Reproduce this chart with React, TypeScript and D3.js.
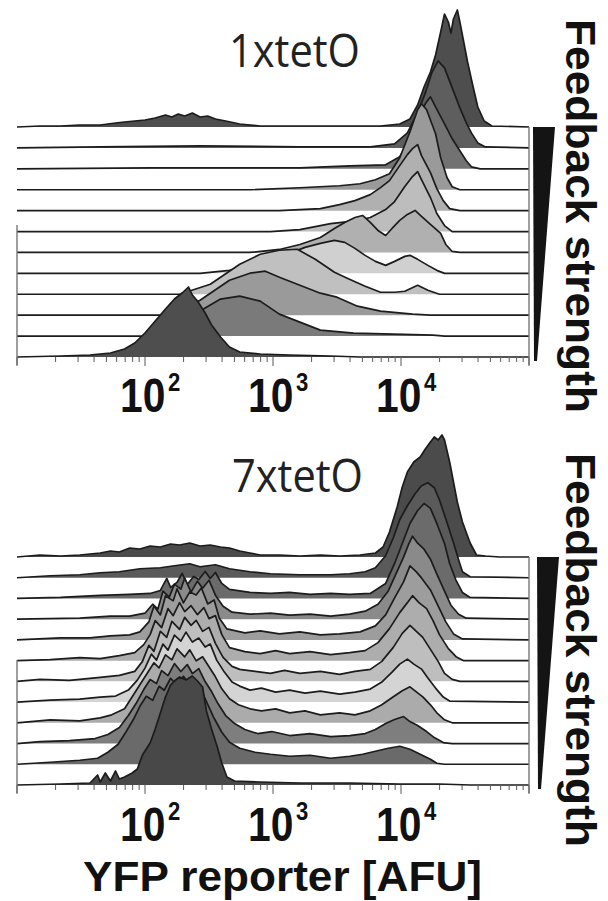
import React from "react";
import * as d3 from "d3";

// each row: [log10(YFP AFU), relative cell count]
// 1xtetO, top row first
const t0: [number, number][] = [[1.00,0],[1.18,1],[1.34,1],[1.49,2],[1.65,2],[1.77,4],[1.84,5],[1.92,6],[2.00,7],[2.08,9],[2.16,12],[2.21,10],[2.26,13],[2.31,11],[2.37,14],[2.43,10],[2.49,11],[2.55,8],[2.63,6],[2.74,3],[2.90,1],[3.21,1],[3.52,1],[3.84,1],[3.99,3],[4.07,8],[4.13,22],[4.18,40],[4.23,55],[4.27,72],[4.31,95],[4.34,113],[4.37,105],[4.39,94],[4.41,108],[4.44,117],[4.46,105],[4.49,85],[4.52,65],[4.56,42],[4.60,20],[4.65,6],[4.71,1],[5.00,0]];
const t1: [number, number][] = [[1.00,0],[1.65,1],[2.43,2],[3.21,1],[3.76,1],[3.95,4],[4.05,15],[4.13,35],[4.19,55],[4.24,75],[4.29,87],[4.34,80],[4.40,60],[4.46,40],[4.51,25],[4.55,15],[4.60,5],[4.66,1],[5.00,0]];
const t2: [number, number][] = [[1.00,0],[2.04,1],[3.21,1],[3.60,3],[3.88,4],[3.99,12],[4.07,30],[4.13,50],[4.19,65],[4.23,72],[4.27,62],[4.34,45],[4.40,30],[4.46,18],[4.51,8],[4.55,2],[4.62,0],[5.00,0]];
const t3: [number, number][] = [[1.00,0],[2.82,0],[3.21,2],[3.52,4],[3.68,6],[3.80,10],[3.91,16],[3.99,32],[4.07,58],[4.13,80],[4.16,86],[4.20,80],[4.27,56],[4.31,32],[4.36,12],[4.40,3],[4.46,0],[5.00,0]];
const t4: [number, number][] = [[1.00,0],[3.05,0],[3.37,2],[3.52,6],[3.64,10],[3.76,16],[3.84,23],[3.91,30],[3.99,45],[4.05,56],[4.09,62],[4.13,66],[4.16,55],[4.23,38],[4.28,22],[4.33,10],[4.38,2],[4.46,0],[5.00,0]];
const t5: [number, number][] = [[1.00,0],[2.98,0],[3.21,2],[3.29,4],[3.45,8],[3.66,11],[3.76,14],[3.88,22],[3.95,30],[4.03,45],[4.09,55],[4.13,60],[4.16,52],[4.23,34],[4.28,18],[4.34,6],[4.40,0],[5.00,0]];
const t6: [number, number][] = [[1.00,0],[2.82,0],[3.05,3],[3.21,8],[3.37,15],[3.48,24],[3.56,30],[3.64,35],[3.70,37],[3.76,30],[3.82,22],[3.88,17],[3.93,24],[3.99,32],[4.05,38],[4.11,42],[4.16,36],[4.23,28],[4.31,19],[4.35,8],[4.40,1],[4.46,0],[5.00,0]];
const t7: [number, number][] = [[1.00,0],[2.43,0],[2.66,3],[2.82,8],[2.98,14],[3.13,20],[3.25,26],[3.37,30],[3.48,33],[3.56,31],[3.64,25],[3.72,18],[3.80,12],[3.88,8],[3.95,12],[4.03,17],[4.07,18],[4.13,14],[4.21,8],[4.28,3],[4.34,0],[5.00,0]];
const t8: [number, number][] = [[1.00,0],[2.27,0],[2.51,10],[2.74,30],[2.90,40],[3.05,44],[3.19,45],[3.33,35],[3.48,22],[3.58,16],[3.72,8],[3.84,2],[3.95,2],[4.03,3],[4.13,9],[4.21,4],[4.30,0],[5.00,0]];
const t9: [number, number][] = [[1.00,0],[2.20,0],[2.43,15],[2.66,35],[2.82,42],[2.94,44],[3.05,38],[3.21,30],[3.37,22],[3.50,18],[3.66,9],[3.84,4],[4.09,1],[4.23,0],[5.00,0]];
const t10: [number, number][] = [[1.00,0],[2.12,0],[2.27,8],[2.43,25],[2.59,37],[2.74,40],[2.90,35],[3.05,22],[3.21,14],[3.37,6],[3.63,3],[4.25,1],[4.34,0],[5.00,0]];
const t11: [number, number][] = [[1.00,0],[1.34,1],[1.57,2],[1.73,4],[1.84,8],[1.92,14],[2.00,24],[2.08,36],[2.16,48],[2.23,58],[2.29,64],[2.34,70],[2.37,62],[2.41,56],[2.47,44],[2.52,32],[2.59,20],[2.66,10],[2.74,5],[2.90,3],[3.13,2],[3.45,1],[3.68,0],[5.00,0]];

// 7xtetO, top row first
const b0: [number, number][] = [[1.00,0],[1.18,2],[1.34,1],[1.49,2],[1.65,4],[1.73,6],[1.80,5],[1.88,9],[1.96,8],[2.04,11],[2.12,10],[2.20,13],[2.27,12],[2.35,14],[2.43,11],[2.51,12],[2.59,10],[2.66,9],[2.74,6],[2.82,4],[2.90,2],[3.05,2],[3.21,1],[3.37,2],[3.52,1],[3.68,2],[3.80,4],[3.86,10],[3.91,25],[3.97,50],[4.01,70],[4.05,85],[4.10,95],[4.15,100],[4.19,108],[4.23,115],[4.26,120],[4.29,117],[4.32,122],[4.34,117],[4.38,95],[4.44,55],[4.48,35],[4.54,14],[4.59,2],[4.66,1],[4.77,0],[5.00,0]];
const b1: [number, number][] = [[1.00,0],[1.26,2],[1.49,3],[1.65,5],[1.80,6],[1.96,9],[2.12,10],[2.23,12],[2.35,14],[2.43,11],[2.55,13],[2.66,9],[2.82,6],[2.98,4],[3.21,3],[3.45,3],[3.60,4],[3.72,6],[3.80,10],[3.88,22],[3.94,40],[3.99,58],[4.05,72],[4.11,84],[4.16,92],[4.21,95],[4.26,90],[4.30,78],[4.36,55],[4.41,35],[4.45,18],[4.48,6],[4.54,1],[5.00,0]];
const b2: [number, number][] = [[1.00,0],[1.34,1],[1.65,3],[1.88,4],[2.04,5],[2.12,8],[2.17,20],[2.20,11],[2.25,16],[2.29,25],[2.33,14],[2.38,22],[2.42,19],[2.47,27],[2.51,20],[2.55,26],[2.60,15],[2.66,9],[2.82,6],[2.98,5],[3.13,6],[3.29,4],[3.45,5],[3.60,4],[3.76,5],[3.88,15],[3.95,35],[4.01,55],[4.07,75],[4.13,88],[4.18,95],[4.23,90],[4.28,75],[4.34,55],[4.38,35],[4.43,18],[4.48,6],[4.54,1],[5.00,0]];
const b3: [number, number][] = [[1.00,0],[1.49,1],[1.73,3],[1.88,3],[2.00,6],[2.06,15],[2.10,10],[2.14,28],[2.19,22],[2.23,35],[2.28,30],[2.31,41],[2.36,27],[2.41,38],[2.45,31],[2.50,39],[2.55,24],[2.61,13],[2.68,7],[2.82,5],[2.98,6],[3.13,4],[3.29,5],[3.45,3],[3.60,5],[3.72,8],[3.82,15],[3.90,28],[3.96,45],[4.02,62],[4.06,75],[4.09,83],[4.13,76],[4.18,70],[4.23,60],[4.28,45],[4.34,28],[4.39,14],[4.45,5],[4.51,1],[5.00,0]];
const b4: [number, number][] = [[1.00,0],[1.34,2],[1.57,2],[1.73,4],[1.88,5],[1.96,8],[2.03,18],[2.07,34],[2.12,25],[2.16,44],[2.22,39],[2.25,51],[2.30,37],[2.35,48],[2.40,45],[2.44,52],[2.49,36],[2.54,40],[2.58,22],[2.64,11],[2.78,7],[2.90,9],[3.05,6],[3.21,8],[3.37,5],[3.52,6],[3.68,8],[3.80,14],[3.88,25],[3.95,42],[4.02,58],[4.07,74],[4.12,68],[4.16,62],[4.23,50],[4.29,34],[4.35,18],[4.41,6],[4.48,1],[5.00,0]];
const b5: [number, number][] = [[1.00,0],[1.26,1],[1.49,3],[1.65,2],[1.80,5],[1.92,8],[1.99,16],[2.04,26],[2.08,40],[2.13,33],[2.18,52],[2.22,45],[2.27,58],[2.31,49],[2.36,55],[2.41,46],[2.46,53],[2.50,42],[2.55,45],[2.60,26],[2.66,13],[2.78,9],[2.90,7],[3.02,10],[3.13,7],[3.29,9],[3.45,6],[3.60,8],[3.72,10],[3.82,18],[3.91,32],[3.99,48],[4.05,58],[4.09,65],[4.14,58],[4.20,52],[4.25,40],[4.30,26],[4.37,12],[4.43,4],[4.49,0],[5.00,0]];
const b6: [number, number][] = [[1.00,0],[1.18,2],[1.41,1],[1.65,4],[1.80,6],[1.92,10],[1.98,20],[2.03,36],[2.07,30],[2.12,50],[2.17,44],[2.21,60],[2.27,52],[2.31,64],[2.36,56],[2.40,61],[2.45,50],[2.50,54],[2.55,38],[2.61,24],[2.68,15],[2.74,12],[2.86,10],[2.98,8],[3.09,11],[3.21,8],[3.37,10],[3.52,7],[3.64,10],[3.76,12],[3.85,20],[3.94,34],[4.01,48],[4.07,56],[4.12,50],[4.17,44],[4.23,32],[4.29,20],[4.34,8],[4.40,2],[4.46,0],[5.00,0]];
const b7: [number, number][] = [[1.00,0],[1.26,2],[1.49,3],[1.65,5],[1.77,6],[1.87,12],[1.94,22],[2.00,34],[2.05,48],[2.09,42],[2.14,58],[2.18,52],[2.23,67],[2.28,61],[2.32,70],[2.37,60],[2.42,64],[2.47,55],[2.51,58],[2.56,42],[2.62,30],[2.68,20],[2.74,16],[2.82,12],[2.91,14],[3.02,10],[3.13,12],[3.25,9],[3.37,11],[3.52,8],[3.64,10],[3.76,13],[3.85,20],[3.93,30],[3.99,38],[4.05,43],[4.10,38],[4.16,33],[4.21,24],[4.27,14],[4.33,5],[4.38,1],[5.00,0]];
const b8: [number, number][] = [[1.00,0],[1.26,3],[1.49,2],[1.65,5],[1.74,8],[1.84,14],[1.90,26],[1.96,38],[2.02,50],[2.07,60],[2.11,55],[2.16,68],[2.21,63],[2.25,74],[2.31,66],[2.35,73],[2.40,62],[2.45,66],[2.50,56],[2.55,46],[2.60,34],[2.66,24],[2.73,18],[2.82,14],[2.91,12],[3.02,14],[3.13,10],[3.25,12],[3.37,8],[3.52,10],[3.64,8],[3.76,12],[3.85,18],[3.94,26],[4.01,32],[4.07,36],[4.12,31],[4.17,26],[4.23,18],[4.28,10],[4.34,3],[4.40,0],[5.00,0]];
const b9: [number, number][] = [[1.00,0],[1.18,2],[1.41,3],[1.61,5],[1.71,9],[1.80,16],[1.87,28],[1.93,40],[1.99,54],[2.04,64],[2.09,60],[2.13,73],[2.18,68],[2.23,80],[2.28,72],[2.33,79],[2.37,70],[2.42,75],[2.47,62],[2.52,52],[2.57,40],[2.63,28],[2.70,20],[2.78,14],[2.88,10],[2.99,12],[3.13,8],[3.29,10],[3.45,7],[3.60,8],[3.72,10],[3.80,14],[3.88,20],[3.95,24],[4.02,27],[4.07,22],[4.13,18],[4.20,12],[4.26,6],[4.33,1],[4.40,0],[5.00,0]];
const b10: [number, number][] = [[1.00,0],[1.26,2],[1.49,4],[1.63,6],[1.71,12],[1.79,20],[1.85,32],[1.91,45],[1.96,58],[2.01,68],[2.06,64],[2.11,78],[2.15,74],[2.20,86],[2.25,79],[2.30,88],[2.35,80],[2.39,83],[2.44,74],[2.49,60],[2.54,46],[2.60,32],[2.66,22],[2.74,16],[2.86,12],[2.98,10],[3.13,8],[3.29,9],[3.45,6],[3.60,8],[3.70,10],[3.80,13],[3.90,16],[3.99,18],[4.07,15],[4.15,10],[4.23,5],[4.28,1],[4.34,0],[5.00,0]];
const b11: [number, number][] = [[1.00,0],[1.34,1],[1.57,2],[1.63,10],[1.65,3],[1.69,12],[1.73,4],[1.77,14],[1.80,6],[1.84,8],[1.90,12],[1.94,16],[1.98,30],[2.04,42],[2.08,56],[2.12,72],[2.16,88],[2.20,100],[2.23,104],[2.27,108],[2.32,105],[2.37,109],[2.41,104],[2.45,98],[2.48,74],[2.52,56],[2.56,40],[2.60,22],[2.64,8],[2.70,4],[2.90,3],[3.21,2],[3.60,2],[3.99,1],[4.30,1],[4.54,0],[5.00,0]];

const topRows = [t0, t1, t2, t3, t4, t5, t6, t7, t8, t9, t10, t11];
const bottomRows = [b0, b1, b2, b3, b4, b5, b6, b7, b8, b9, b10, b11];
const labelDecades = [2, 3, 4];
const topTitle = "1xtetO";
const bottomTitle = "7xtetO";
const xTitle = "YFP reporter [AFU]";
const sideTitle = "Feedback strength";

// fill greys, top row first
const topShades = ["#4e4e4e", "#5e5e5e", "#727272", "#9a9a9a", "#b0b0b0", "#bdbdbd", "#b0b0b0", "#d0d0d0", "#c0c0c0", "#9a9a9a", "#7a7a7a", "#4e4e4e"];
const bottomShades = ["#4b4b4b", "#5a5a5a", "#6b6b6b", "#8a8a8a", "#9d9d9d", "#adadad", "#bebebe", "#d4d4d4", "#ababab", "#7e7e7e", "#6a6a6a", "#484848"];

const W = 608;
const H = 901;
const font = "'Open Sans', 'DejaVu Sans', sans-serif";
const boldFont = "'Liberation Sans', Arial, sans-serif";

const x = d3.scaleLog().domain([10, 1e5]).range([17, 529]);
const count = d3.scaleLinear().domain([0, 100]).range([0, 100]);

type PanelProps = {
  rows: [number, number][][];
  shades: string[];
  top: number;
  bottom: number;
  leftFrom: number;
  title: string;
  titleX: number;
  titleY: number;
  labelY: number;
  wedgeX: number;
  sideY: number;
};

const Panel = ({ rows, shades, top, bottom, leftFrom, title, titleX, titleY, labelY, wedgeX, sideY }: PanelProps) => {
  const yRow = d3.scalePoint<number>().domain(d3.range(rows.length)).range([top, bottom]);
  const ticks = x.ticks();
  const isMajor = (v: number) => Math.abs(Math.log10(v) - Math.round(Math.log10(v))) < 1e-6;

  return (
    <g>
      <text x={titleX} y={titleY} fontFamily={font} fontSize={45} fill="#222"
        textLength={131} lengthAdjust="spacingAndGlyphs">{title}</text>

      {rows.map((r, i) => {
        const base = yRow(i)!;
        const area = d3.area<[number, number]>()
          .x(d => x(Math.pow(10, d[0])))
          .y0(base)
          .y1(d => base - count(d[1]));
        const line = d3.line<[number, number]>()
          .x(d => x(Math.pow(10, d[0])))
          .y(d => base - count(d[1]));
        return (
          <g key={i}>
            <path d={area(r) || ""} fill={shades[i]} />
            <path d={line(r) || ""} fill="none" stroke="#1c1c1c" strokeWidth={1.7} strokeLinejoin="round" />
          </g>
        );
      })}

      {/* frame */}
      <line x1={529} x2={529} y1={top} y2={bottom + 8} stroke="#777" strokeWidth={1.4} />
      <line x1={17} x2={17} y1={leftFrom} y2={bottom + 8} stroke="#777" strokeWidth={1.4} />

      {/* log ticks */}
      {ticks.map((t, i) => (
        <line key={i} x1={x(t)} x2={x(t)} y1={bottom} y2={bottom + (isMajor(t) ? 9 : 5)}
          stroke="#666" strokeWidth={1.1} />
      ))}

      {labelDecades.map(p => {
        const tx = x(Math.pow(10, p));
        return (
          <text key={p} transform={`translate(${tx - 25},${labelY}) scale(0.85,1)`}
            fontFamily={boldFont} fontWeight={700} fill="#111">
            <tspan fontSize={48}>10</tspan>
            <tspan fontSize={26} dx={3} dy={-21}>{p}</tspan>
          </text>
        );
      })}

      {/* feedback wedge */}
      <polygon
        points={`${wedgeX},${top} ${wedgeX + 22},${top} ${wedgeX + 4},${bottom + 4} ${wedgeX + 1},${bottom + 4}`}
        fill="#141414" />

      <text transform={`translate(566,${sideY}) rotate(90)`} fontFamily={boldFont} fontWeight={700} fontSize={43}
        fill="#111" textLength={394} lengthAdjust="spacingAndGlyphs">{sideTitle}</text>
    </g>
  );
};

export default function App() {
  return (
    <svg width={W} height={H} viewBox={`0 0 ${W} ${H}`}
      style={{ position: "absolute", left: 0, top: 0, background: "#fff" }}>
      <rect width={W} height={H} fill="#fff" />
      <Panel rows={topRows} shades={topShades} top={127} bottom={357} leftFrom={225}
        title={topTitle} titleX={229} titleY={67} labelY={412} wedgeX={533} sideY={19} />
      <Panel rows={bottomRows} shades={bottomShades} top={557} bottom={785} leftFrom={660}
        title={bottomTitle} titleX={232} titleY={492} labelY={841} wedgeX={537} sideY={453} />
      <text x={83} y={891} fontFamily={boldFont} fontWeight={700} fontSize={42} fill="#111"
        textLength={399} lengthAdjust="spacingAndGlyphs">{xTitle}</text>
    </svg>
  );
}
